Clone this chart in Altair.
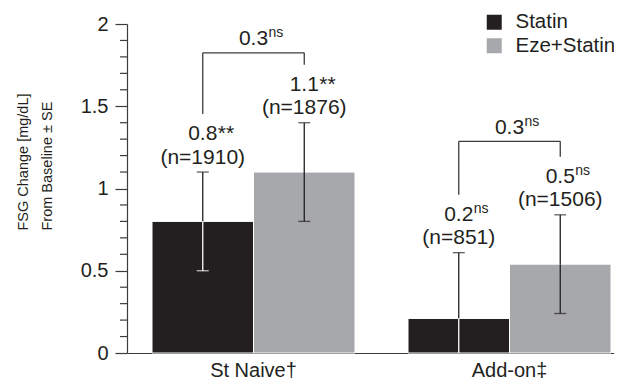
import altair as alt
import pandas as pd

# ---- data ----
groups = ["St Naive†", "Add-on‡"]
series = ["Statin", "Eze+Statin"]

statin_mean = [0.80, 0.21]
eze_mean = [1.10, 0.54]
statin_lower = [0.50, -0.19]
statin_upper = [1.10, 0.61]
eze_lower = [0.80, 0.24]
eze_upper = [1.40, 0.84]
statin_label = ["0.8", "0.2"]
eze_label = ["1.1", "0.5"]
statin_sig = ["**", "ns"]
eze_sig = ["**", "ns"]
statin_n = ["(n=1910)", "(n=851)"]
eze_n = ["(n=1876)", "(n=1506)"]
diff_label = ["0.3", "0.3"]
diff_sig = ["ns", "ns"]
bracket_level = [1.825, 1.287]

major_ticks = [0, 0.5, 1, 1.5, 2]
minor_ticks = [round(i * 0.1, 1) for i in range(21) if i % 5 != 0]

DARK = "#231f20"
GRAY = "#a6a8ab"
LINE = "#3c3c3c"
FONT = "Liberation Sans"

rows = []
for gi, g in enumerate(groups):
    for s, m, lo, up, lab, sig, n in [
        ("Statin", statin_mean[gi], statin_lower[gi], statin_upper[gi], statin_label[gi], statin_sig[gi], statin_n[gi]),
        ("Eze+Statin", eze_mean[gi], eze_lower[gi], eze_upper[gi], eze_label[gi], eze_sig[gi], eze_n[gi]),
    ]:
        rows.append(dict(group=g, series=s, mean=m, lower=lo, upper=up, label=lab,
                         sig=sig, n=n, top=bracket_level[gi]))
df = pd.DataFrame(rows)

br = pd.DataFrame(dict(group=groups, top=bracket_level, label=diff_label, sig=diff_sig))
minor_df = pd.DataFrame(dict(tick=minor_ticks))

base = alt.Chart(df)

x_enc = alt.X(
    "group:N", sort=groups,
    scale=alt.Scale(paddingInner=0.207, paddingOuter=0.0547, align=0.893),
    axis=alt.Axis(title=None, labelAngle=0, ticks=False, labelFontSize=20, labelFont=FONT,
                  labelColor=DARK, labelPadding=7, domainColor=LINE, domainWidth=1.2),
)
xo_enc = alt.XOffset("series:N", sort=series, scale=alt.Scale(paddingInner=0, paddingOuter=0))

y_scale = alt.Scale(domain=[0, 2], nice=False)
y_axis = alt.Axis(
    values=major_ticks, format="~g",
    labelOverlap=False, tickSize=12,
    labelPadding=7, labelFontSize=20, labelFont=FONT, labelColor=DARK,
    domainColor=LINE, domainWidth=1.2, tickColor=LINE, tickWidth=1.2, grid=False,
    title=["FSG Change [mg/dL]", "From Baseline ± SE"],
    titleFont=FONT, titleFontSize=14.5,
    titleFontWeight="normal", titleColor=DARK, titleAngle=-90, titleAlign="left",
    titleBaseline="top", titleX=-111, titleY=206, titleLineHeight=24,
)


def Y(field):
    return alt.Y(field, scale=y_scale, axis=y_axis)


bars = base.mark_bar(stroke="white", strokeWidth=1).encode(
    x=x_enc, xOffset=xo_enc,
    y=Y("mean:Q"),
    color=alt.Color("series:N", sort=series, scale=alt.Scale(domain=series, range=[DARK, GRAY]),
                    legend=alt.Legend(title=None, orient="none", legendX=357, legendY=-12,
                                      symbolType="square", symbolSize=225, symbolStrokeWidth=0,
                                      labelFontSize=20.5, labelFont=FONT, labelColor=DARK,
                                      labelOffset=11, rowPadding=2.5, padding=0, direction="vertical")),
)

# minor ticks of the y axis (every 0.1), drawn just left of the axis line
minor = alt.Chart(minor_df).mark_rule(color=LINE, strokeWidth=1.2, clip=False).encode(
    x=alt.value(-7), x2=alt.value(0), y=Y("tick:Q"))

err_color = alt.condition("datum.series == 'Statin'", alt.value("white"), alt.value(DARK))

upper_rule = base.mark_rule(color=DARK, strokeWidth=1.3, clip=True).encode(
    x=x_enc, xOffset=xo_enc, y=Y("mean:Q"), y2="upper:Q")
upper_cap = base.mark_tick(color=DARK, size=12, thickness=1.3, clip=True).encode(
    x=x_enc, xOffset=xo_enc, y=Y("upper:Q"))
lower_rule = base.mark_rule(strokeWidth=1.3, clip=True).encode(
    x=x_enc, xOffset=xo_enc, y=Y("lower:Q"), y2="mean:Q", color=err_color)
lower_cap = base.mark_tick(size=12, thickness=1.3, clip=True).encode(
    x=x_enc, xOffset=xo_enc, y=Y("lower:Q"), color=err_color)

txt = dict(font=FONT, color=DARK, baseline="alphabetic")
n_text = base.mark_text(fontSize=21, dy=-8.5, **txt).encode(
    x=x_enc, xOffset=xo_enc, y=Y("upper:Q"), text="n:N")
v_text = base.mark_text(fontSize=21, dy=-32, **txt).encode(
    x=x_enc, xOffset=xo_enc, y=Y("upper:Q"), text="label:N")
star_text = base.transform_filter("datum.sig == '**'").mark_text(
    fontSize=21, dy=-32, dx=15, align="left", **txt).encode(
    x=x_enc, xOffset=xo_enc, y=Y("upper:Q"), text="sig:N")
ns_text = base.transform_filter("datum.sig == 'ns'").mark_text(
    fontSize=14, dy=-40, dx=15, align="left", **txt).encode(
    x=x_enc, xOffset=xo_enc, y=Y("upper:Q"), text="sig:N")

br_vert = base.mark_rule(color=LINE, strokeWidth=1.3, y2Offset=-58).encode(
    x=x_enc, xOffset=xo_enc, y=Y("top:Q"), y2="upper:Q")
br_horiz = base.mark_line(color=LINE, strokeWidth=1.3).encode(
    x=x_enc, xOffset=xo_enc, y=Y("top:Q"), detail="group:N")
br_text = alt.Chart(br).mark_text(fontSize=21, dy=-7.5, **txt).encode(
    x=x_enc, y=Y("top:Q"), text="label:N")
br_ns = alt.Chart(br).mark_text(fontSize=14, dy=-15.5, dx=15, align="left", **txt).encode(
    x=x_enc, y=Y("top:Q"), text="sig:N")

chart = alt.layer(
    bars, minor, upper_rule, upper_cap, lower_rule, lower_cap,
    n_text, v_text, star_text, ns_text, br_vert, br_horiz, br_text, br_ns,
).properties(
    width=487, height=329,
    padding={"left": 119, "top": 16, "right": 0, "bottom": 28},
    autosize=alt.AutoSizeParams(type="none"),
    background="white",
).configure_view(stroke=None)

chart.save("out.html", embed_options={"renderer": "svg", "actions": False})
